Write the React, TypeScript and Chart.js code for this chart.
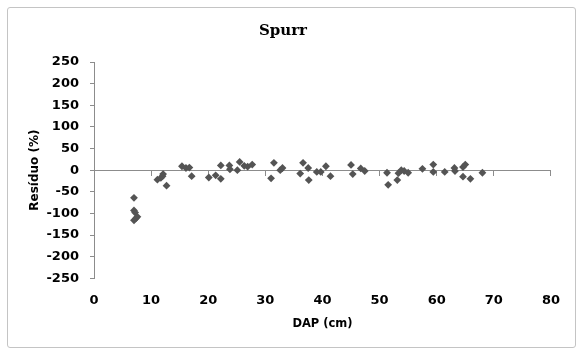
import { useEffect, useRef } from 'react';
import { Chart, registerables } from 'chart.js';

Chart.register(...registerables);

// DAP (cm) of each tree
const dapValues: number[] = [
  7.0, 7.0, 7.2, 7.6, 7.3, 7.0,
  11.1, 11.7, 12.0, 12.1, 12.7,
  15.4, 16.1, 16.7, 17.1,
  20.1, 21.3, 22.2, 22.2, 23.7, 23.8, 25.1, 25.5, 26.3, 26.9, 27.7,
  31.0, 31.5, 32.6, 33.0,
  36.1, 36.6, 37.5, 37.6, 39.0, 39.7, 40.6, 41.4,
  45.0, 45.3, 46.7, 47.4,
  51.3, 51.5, 53.1, 53.3, 53.8, 54.3, 55.0,
  57.5, 59.4, 59.4,
  61.4, 63.1, 63.2, 64.6, 65.0, 64.6, 65.9,
  68.0,
];

// Resíduo (%) of each tree
const residuoValues: number[] = [
  -64, -93, -98, -108, -112, -116,
  -22, -18, -14, -9, -36,
  9, 5, 6, -14,
  -17, -12, -20, 11, 11, 2, 0, 19, 10, 8, 13,
  -19, 17, 0, 5,
  -8, 17, 5, -23, -4, -4, 9, -14,
  12, -9, 4, -2,
  -6, -34, -23, -7, 0, -2, -6,
  3, 13, -4,
  -4, 5, -2, 7, 13, -15, -20,
  -6,
];

const xRange = { min: 0, max: 80, step: 10 };
const yRange = { min: -250, max: 250, step: 50 };

const chartTitle = 'Spurr';
const xTitle = 'DAP (cm)';
const yTitle = 'Resíduo (%)';

export default function App() {
  const canvasRef = useRef<HTMLCanvasElement | null>(null);

  useEffect(() => {
    if (!canvasRef.current) return;
    const axisColor = '#8c8c8c';
    const sans = "'DejaVu Sans', sans-serif";
    const tickFont = { family: sans, weight: 'bold' as const, size: 13 };
    const points = dapValues.map((x, i) => ({ x, y: residuoValues[i] }));

    const chart = new Chart(canvasRef.current, {
      type: 'scatter',
      data: {
        datasets: [
          {
            label: 'Resíduo',
            data: points,
            pointStyle: 'rectRot',
            pointRadius: 3.9,
            backgroundColor: '#545454',
            borderColor: '#545454',
            borderWidth: 0,
            xAxisID: 'x',
            yAxisID: 'y',
          },
        ],
      },
      options: {
        animation: false,
        responsive: true,
        maintainAspectRatio: false,
        layout: { padding: { left: 0, right: 17, top: 0, bottom: 0 } },
        plugins: {
          legend: { display: false },
          tooltip: { enabled: false },
          title: {
            display: true,
            text: chartTitle,
            color: '#000',
            font: { family: "'DejaVu Serif', serif", weight: 'bold', size: 15 },
            padding: { top: 14, bottom: 22 },
          },
        },
        scales: {
          x: {
            type: 'linear',
            position: 'bottom',
            min: xRange.min,
            max: xRange.max,
            ticks: { stepSize: xRange.step, padding: 15, color: '#000', font: tickFont },
            grid: { display: false, drawTicks: false },
            border: { display: false },
            title: {
              display: true,
              text: xTitle,
              color: '#000',
              font: { family: sans, weight: 'bold', size: 11.5 },
              padding: { top: 0, bottom: 16 },
            },
            afterFit: (s: any) => {
              s.height = 68.7;
            },
          },
          x0: {
            type: 'linear',
            position: { y: 0 },
            min: xRange.min,
            max: xRange.max,
            ticks: { display: false, stepSize: xRange.step },
            grid: {
              drawOnChartArea: false,
              drawTicks: true,
              tickLength: 5,
              color: axisColor,
              tickColor: axisColor,
            },
            border: { display: true, color: axisColor },
          },
          y: {
            type: 'linear',
            position: 'left',
            min: yRange.min,
            max: yRange.max,
            ticks: { stepSize: yRange.step, padding: 11, color: '#000', font: tickFont },
            grid: {
              drawOnChartArea: false,
              drawTicks: true,
              tickLength: 4,
              color: axisColor,
              tickColor: axisColor,
            },
            border: { display: true, color: axisColor },
            title: {
              display: true,
              text: yTitle,
              color: '#000',
              font: { family: sans, weight: 'bold', size: 12 },
              padding: { top: 20, bottom: 0 },
            },
            afterFit: (s: any) => {
              s.width = 86;
            },
          },
        },
      } as any,
    });
    return () => chart.destroy();
  }, []);

  return (
    <div
      style={{
        position: 'absolute',
        left: 7,
        top: 7,
        width: 569,
        height: 341,
        boxSizing: 'border-box',
        border: '1px solid #c4c4c4',
        borderRadius: 3,
        background: '#fff',
      }}
    >
      <div style={{ position: 'relative', width: '100%', height: '100%' }}>
        <canvas ref={canvasRef} />
      </div>
    </div>
  );
}
